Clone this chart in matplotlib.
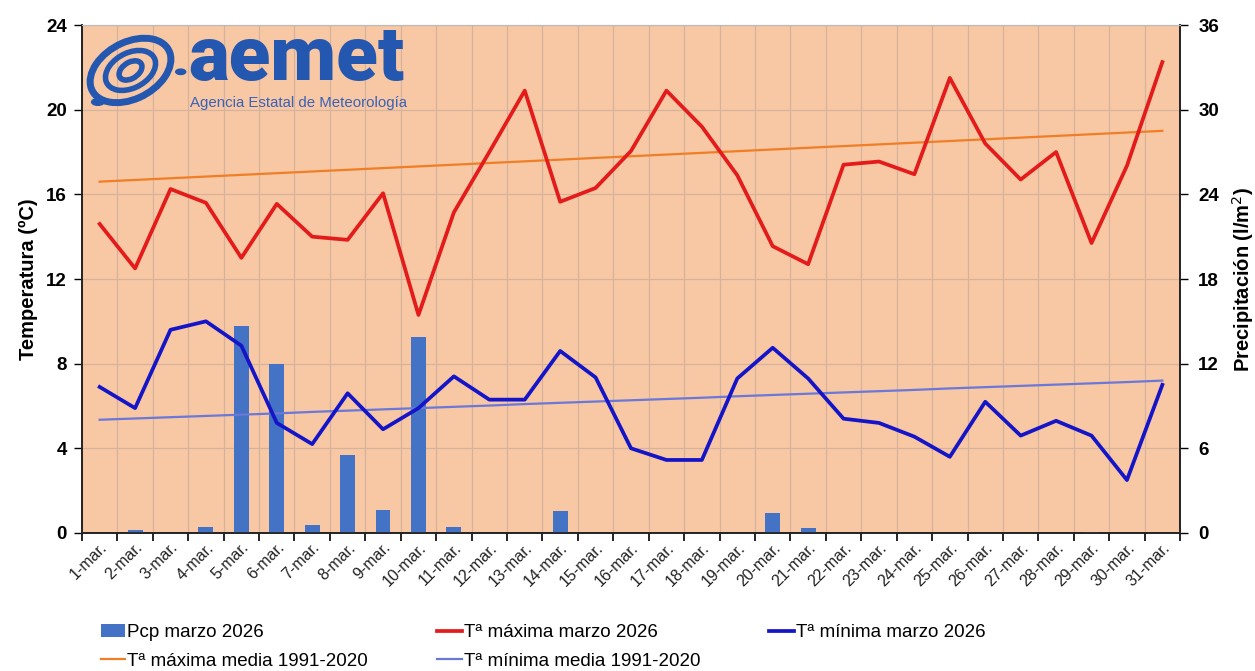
import matplotlib
matplotlib.use("Agg")
import matplotlib.pyplot as plt
import numpy as np
from matplotlib.patches import Ellipse, Circle

days = [f"{d}-mar." for d in range(1, 32)]

tmax = [14.6, 12.5, 16.25, 15.6, 13.0, 15.55, 14.0, 13.85, 16.05, 10.3,
        15.15, 18.0, 20.9, 15.65, 16.3, 18.05, 20.9, 19.2, 16.9, 13.55,
        12.7, 17.4, 17.55, 16.95, 21.5, 18.4, 16.7, 18.0, 13.7, 17.35, 22.25]
tmin = [6.9, 5.9, 9.6, 10.0, 8.85, 5.2, 4.2, 6.6, 4.9, 5.9,
        7.4, 6.3, 6.3, 8.6, 7.35, 4.0, 3.45, 3.45, 7.3, 8.75,
        7.3, 5.4, 5.2, 4.55, 3.6, 6.2, 4.6, 5.3, 4.6, 2.5, 7.0]
tmax_norm = [16.6, 16.68, 16.76, 16.84, 16.92, 17.0, 17.08, 17.16, 17.24, 17.32,
             17.4, 17.48, 17.56, 17.64, 17.72, 17.8, 17.88, 17.96, 18.04, 18.12,
             18.2, 18.28, 18.36, 18.44, 18.52, 18.6, 18.68, 18.76, 18.84, 18.92, 19.0]
tmin_norm = [5.35, 5.41, 5.47, 5.53, 5.59, 5.65, 5.72, 5.78, 5.84, 5.9,
             5.96, 6.02, 6.09, 6.15, 6.21, 6.27, 6.33, 6.39, 6.46, 6.52,
             6.58, 6.64, 6.7, 6.76, 6.83, 6.89, 6.95, 7.01, 7.07, 7.13, 7.2]
pcp = [0.0, 0.22, 0.0, 0.45, 14.7, 12.0, 0.55, 5.55, 1.65, 13.9,
       0.45, 0.0, 0.0, 1.55, 0.0, 0.0, 0.0, 0.0, 0.0, 1.4,
       0.35, 0.0, 0.0, 0.0, 0.0, 0.0, 0.0, 0.0, 0.1, 0.0, 0.0]

temp_ticks = [0, 4, 8, 12, 16, 20, 24]
pcp_ticks = [0, 6, 12, 18, 24, 30, 36]

plt.rcParams['font.family'] = ['Liberation Sans', 'DejaVu Sans']

fig = plt.figure(figsize=(12.55, 6.71), dpi=100)
ax2 = fig.add_axes([0.0653, 0.2057, 0.8750, 0.7570])
ax = ax2.twinx()
ax.set_zorder(ax2.get_zorder() + 1)
ax.patch.set_visible(False)
ax2.set_facecolor('#F8C7A4')

x = np.arange(len(days))

# precipitation bars (right axis) - drawn on ax2 (behind lines)
bars = ax2.bar(x, pcp, width=0.42, color='#4472C4', zorder=3, label='Pcp marzo 2026')
ax2.set_ylim(0, 36)
ax2.set_yticks(pcp_ticks)
ax2.yaxis.tick_right()
ax2.yaxis.set_label_position('right')
ax2.set_ylabel('Precipitación (l/m$^{2}$)', fontsize=14.5, fontweight='bold', labelpad=8)
ax2.set_xlim(-0.5, len(days) - 0.5)
ax2.set_xticks(np.arange(len(days) + 1) - 0.5)
ax2.set_xticklabels([])
ax2.set_xticks(x, minor=True)
ax2.set_xticklabels(days, minor=True, rotation=45, ha='right', rotation_mode='anchor',
                    fontsize=11.5, color='#222222')
ax2.tick_params(axis='x', which='minor', length=0, pad=5)
ax2.tick_params(axis='x', which='major', length=6, width=1.2, direction='out')
ax2.tick_params(axis='y', length=6, width=1.0, labelsize=13.5, pad=7)
for lab in ax2.get_yticklabels():
    lab.set_fontweight('bold')
ax2.grid(True, which='major', color='#D2B49E', lw=0.8, zorder=0)
ax2.set_axisbelow(True)

# temperature lines (left axis)
l_tmaxn, = ax.plot(x, tmax_norm, color='#F07E26', lw=1.6, zorder=3, label='Tª máxima media 1991-2020')
l_tminn, = ax.plot(x, tmin_norm, color='#6A78D8', lw=1.6, zorder=3, label='Tª mínima media 1991-2020')
l_tmax, = ax.plot(x, tmax, color='#E41B1B', lw=2.7, zorder=4, label='Tª máxima marzo 2026')
l_tmin, = ax.plot(x, tmin, color='#1515C8', lw=2.7, zorder=4, label='Tª mínima marzo 2026')
ax.set_ylim(0, 24)
ax.set_yticks(temp_ticks)
ax.yaxis.tick_left()
ax.yaxis.set_label_position('left')
ax.set_ylabel('Temperatura (ºC)', fontsize=14.5, fontweight='bold', labelpad=6)
ax.tick_params(axis='y', length=6, width=1.0, labelsize=13.5, pad=5)
for lab in ax.get_yticklabels():
    lab.set_fontweight('bold')

for a in (ax, ax2):
    a.spines['top'].set_color('#BBBBBB')
    a.spines['top'].set_linewidth(0.8)
    for s in ('left', 'right', 'bottom'):
        a.spines[s].set_color('#222222')
        a.spines[s].set_linewidth(1.2)

# logo
logo_blue = '#2458B0'
fig.text(0.150, 1 - 80 / 671, 'aemet', fontsize=55, fontweight='heavy', color=logo_blue,
         family=['Roboto', 'DejaVu Sans'], ha='left', va='baseline')
fig.text(0.151, 1 - 103 / 671, 'Agencia Estatal de Meteorología', fontsize=10.8, color='#3A62B8',
         ha='left', va='center')
# simplified emblem
for w, h, lw in [(0.058, 0.10, 5), (0.036, 0.062, 4), (0.016, 0.03, 4)]:
    fig.patches.append(Ellipse((0.104, 0.895), w, h, transform=fig.transFigure,
                               fill=False, ec=logo_blue, lw=lw, angle=-20))
fig.patches.append(Circle((0.078, 0.848), 0.005, transform=fig.transFigure, color=logo_blue))
fig.patches.append(Circle((0.144, 0.893), 0.004, transform=fig.transFigure, color=logo_blue))

handles = [bars, l_tmaxn, l_tmax, l_tminn, l_tmin]
labels = [h.get_label() for h in handles]
leg = fig.legend(handles, labels, ncol=3, loc='upper left', bbox_to_anchor=(0.067, 0.095),
                 frameon=False, handlelength=1.3, handletextpad=0.1,
                 columnspacing=3.7, labelspacing=0.6,
                 prop={'size': 13.5})

fig.savefig('out.png', dpi=100, facecolor='white')
